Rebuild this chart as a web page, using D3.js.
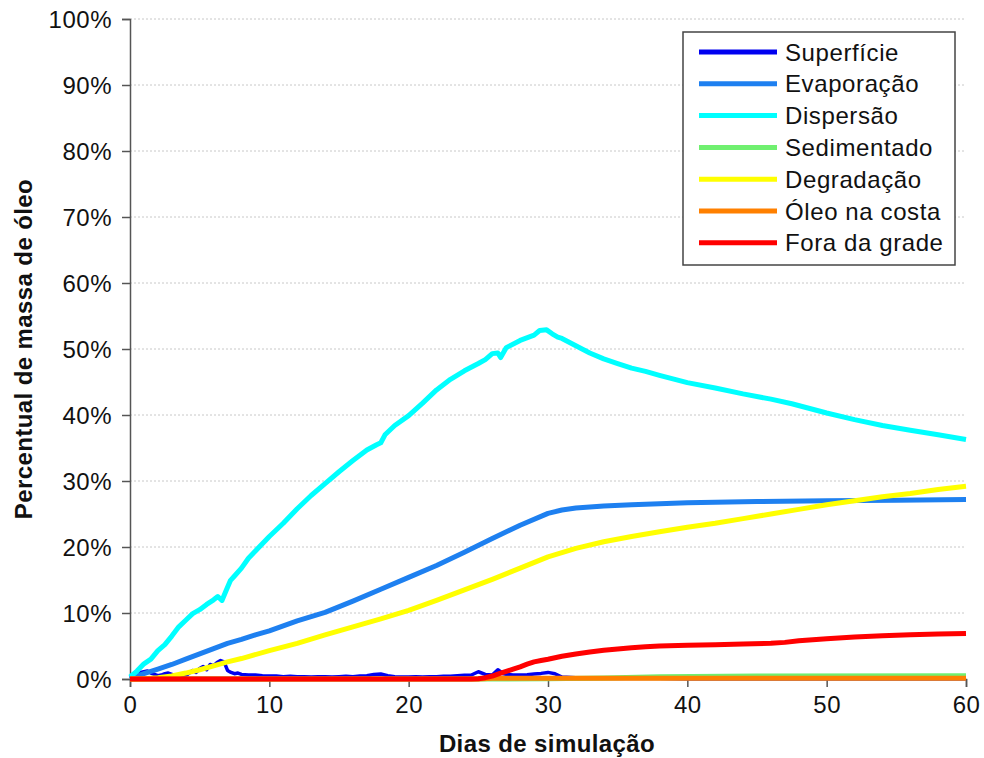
<!DOCTYPE html>
<html>
<head>
<meta charset="utf-8">
<script src="https://cdn.jsdelivr.net/npm/d3@7"></script>
<style>
  html, body { margin: 0; padding: 0; background: #fff; }
  svg { display: block; font-family: "Liberation Sans", Arial, sans-serif; }
</style>
</head>
<body>
<svg id="chart" width="984" height="758"></svg>
<script>
// ---------- DATA ----------
const xTicks = [0, 10, 20, 30, 40, 50, 60];
const yTicks = [0, 10, 20, 30, 40, 50, 60, 70, 80, 90, 100];
const seriesNames = ["Superfície", "Evaporação", "Dispersão", "Sedimentado", "Degradação", "Óleo na costa", "Fora da grade"];
const seriesColors = ["#0000f0", "#1e80f0", "#00ffff", "#70f070", "#ffff00", "#ff8000", "#ff0000"];

const superficieDays = [0,0.25,0.5,0.75,1,1.25,1.5,1.75,2,2.25,2.5,2.75,3,3.25,3.5,3.75,4,4.25,4.5,4.75,5,5.25,5.5,5.75,6,6.25,6.5,6.75,7,7.25,7.5,7.75,8,8.5,9,9.5,10,10.5,11,11.5,12,12.5,13,13.5,14,14.5,15,15.5,16,16.5,17,17.5,18,18.5,19,19.5,20,20.5,21,21.5,22,22.5,23,23.5,24,24.5,25,25.5,26,26.4,26.8,27,27.5,28,28.5,29,29.5,30,30.5,31,32,34,36,38,40,60];
const superficieVals = [0.1,0.4,0.7,1.0,1.1,1.2,0.9,0.7,0.5,0.6,0.8,0.9,0.7,0.5,0.4,0.4,0.5,0.9,1.3,1.0,1.6,1.9,1.4,2.2,2.0,2.5,2.8,2.6,1.3,1.0,0.8,0.9,0.7,0.6,0.6,0.5,0.45,0.45,0.35,0.4,0.35,0.35,0.3,0.35,0.35,0.3,0.35,0.4,0.35,0.45,0.5,0.7,0.75,0.5,0.35,0.3,0.3,0.35,0.3,0.35,0.35,0.4,0.4,0.5,0.55,0.6,1.1,0.7,0.6,1.4,0.8,0.7,0.6,0.6,0.65,0.75,0.85,1.0,0.8,0.3,0.2,0.15,0.12,0.1,0.05,0.05];

const evaporacaoDays = [0,1,2,3,4,5,6,7,8,9,10,12,14,16,18,20,22,24,26,28,30,31,32,34,36,40,45,50,55,60];
const evaporacaoVals = [0.1,0.8,1.5,2.2,3.0,3.8,4.6,5.4,6.0,6.7,7.3,8.8,10.1,11.8,13.6,15.4,17.2,19.2,21.3,23.3,25.1,25.6,25.9,26.2,26.4,26.7,26.9,27.0,27.1,27.2];

const dispersaoDays = [0,0.5,1,1.5,2,2.5,3,3.5,4,4.5,5,5.5,6,6.3,6.6,6.9,7.2,7.5,8,8.5,9,9.5,10,11,12,13,14,15,16,17,17.7,18,18.3,19,20,21,22,23,24,25,25.5,26,26.4,26.6,27,28,29,29.4,29.9,30.3,30.7,31,32,33,34,35,36,37,38,40,42,44,46,47.5,50,52,54,56,58,60];
const dispersaoVals = [0.3,1.2,2.3,3.0,4.3,5.2,6.5,7.9,8.9,9.9,10.5,11.3,12.0,12.5,11.9,13.4,14.9,15.6,16.8,18.3,19.4,20.5,21.6,23.6,25.8,27.8,29.6,31.4,33.1,34.7,35.5,35.8,37.0,38.4,39.9,41.8,43.8,45.4,46.7,47.8,48.4,49.3,49.4,48.7,50.2,51.3,52.1,52.8,52.9,52.3,51.8,51.6,50.5,49.4,48.5,47.8,47.1,46.6,46.0,44.9,44.1,43.2,42.4,41.7,40.3,39.3,38.4,37.7,37.0,36.3];

const sedimentadoDays = [0,30,34,38,45,60];
const sedimentadoVals = [0,0.02,0.15,0.35,0.45,0.5];

const degradacaoDays = [0,1,2,3,4,5,6,7,8,10,12,14,16,18,20,22,24,26,28,30,32,34,36,38,40,42,44,46,48,50,52,54,56,58,60];
const degradacaoVals = [0,0.05,0.2,0.45,0.9,1.4,2.0,2.6,3.1,4.3,5.4,6.7,7.9,9.1,10.4,11.9,13.5,15.1,16.8,18.5,19.8,20.8,21.6,22.3,23.0,23.6,24.3,25.0,25.7,26.4,27.0,27.6,28.1,28.7,29.2];

const oleoDays = [0,25,26,60];
const oleoVals = [0,0,0.1,0.12];

const foraDays = [0,24.5,25,25.5,26,26.5,27,27.5,28,28.5,29,29.5,30,31,32,33,34,35,36,37,38,40,42,44,46,47,48,50,52,54,56,58,60];
const foraVals = [0,0,0.05,0.2,0.45,0.8,1.15,1.5,1.85,2.25,2.6,2.8,3.0,3.45,3.8,4.1,4.35,4.55,4.75,4.9,5.0,5.1,5.2,5.3,5.4,5.55,5.8,6.1,6.35,6.55,6.7,6.8,6.9];

const allDays = [superficieDays, evaporacaoDays, dispersaoDays, sedimentadoDays, degradacaoDays, oleoDays, foraDays];
const allVals = [superficieVals, evaporacaoVals, dispersaoVals, sedimentadoVals, degradacaoVals, oleoVals, foraVals];

// ---------- LAYOUT ----------
const svg = d3.select("#chart");
const mLeft = 130, mRight = 966, mTop = 19, mBottom = 679;
const fontFam = '"Liberation Sans", Arial, sans-serif';

const x = d3.scaleLinear().domain([0, 60]).range([mLeft, mRight]);
const y = d3.scaleLinear().domain([0, 100]).range([mBottom, mTop]);

// gridlines
svg.append("g").selectAll("line")
  .data(yTicks.filter(d => d > 0))
  .join("line")
  .attr("x1", mLeft).attr("x2", mRight)
  .attr("y1", d => y(d)).attr("y2", d => y(d))
  .attr("stroke", "#c8c8c8").attr("stroke-width", 1)
  .attr("stroke-dasharray", "2,2");

// axes
const yAxis = d3.axisLeft(y).tickValues(yTicks).tickFormat(d => d + "%").tickSize(8).tickPadding(10);
const xAxis = d3.axisBottom(x).tickValues(xTicks).tickFormat(d3.format("d")).tickSize(8).tickPadding(9);

const gy = svg.append("g").attr("transform", `translate(${mLeft},0)`).call(yAxis);
const gx = svg.append("g").attr("transform", `translate(0,${mBottom})`).call(xAxis);
[gx, gy].forEach(g => {
  g.select(".domain").attr("stroke", "#555").attr("stroke-width", 1.5);
  g.selectAll(".tick line").attr("stroke", "#555").attr("stroke-width", 1.5);
  g.selectAll(".tick text").attr("fill", "#111").style("font-size", "24px")
    .style("font-family", fontFam).style("letter-spacing", "0.5px");
});
gy.selectAll(".tick text").attr("dy", "0.36em");

// axis titles
svg.append("text")
  .attr("x", 547).attr("y", 752)
  .attr("text-anchor", "middle")
  .style("font-size", "24px").style("font-weight", "bold").attr("fill", "#111")
  .style("letter-spacing", "0.4px")
  .text("Dias de simulação");
svg.append("text")
  .attr("transform", `translate(32,349) rotate(-90)`)
  .attr("text-anchor", "middle")
  .style("font-size", "24px").style("font-weight", "bold").attr("fill", "#111")
  .style("letter-spacing", "0.4px")
  .text("Percentual de massa de óleo");

// lines
const line = d3.line().x(d => x(d[0])).y(d => y(d[1]));
const plot = svg.append("g");
seriesNames.forEach((name, i) => {
  const pts = allDays[i].map((d, j) => [d, allVals[i][j]]);
  plot.append("path")
    .datum(pts)
    .attr("d", line)
    .attr("fill", "none")
    .attr("stroke", seriesColors[i])
    .attr("stroke-width", i === 0 ? 3.5 : 5)
    .attr("stroke-linejoin", "round");
});

// legend
const lg = svg.append("g");
lg.append("rect")
  .attr("x", 683).attr("y", 32).attr("width", 272).attr("height", 233)
  .attr("fill", "#fff").attr("stroke", "#444").attr("stroke-width", 1.5);
seriesNames.forEach((name, i) => {
  const yy = 52 + i * 31.8;
  lg.append("line")
    .attr("x1", 699).attr("x2", 777).attr("y1", yy).attr("y2", yy)
    .attr("stroke", seriesColors[i]).attr("stroke-width", 5);
  lg.append("text")
    .attr("x", 785).attr("y", yy).attr("dy", "0.36em")
    .style("font-size", "24px").attr("fill", "#111")
    .style("letter-spacing", "0.6px")
    .text(name);
});
</script>
</body>
</html>
